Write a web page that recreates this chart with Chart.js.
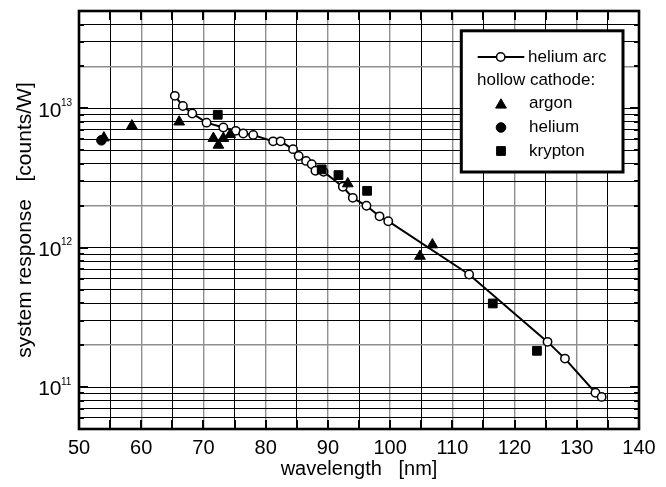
<!DOCTYPE html>
<html>
<head>
<meta charset="utf-8">
<title>System response</title>
<script src="https://cdn.jsdelivr.net/npm/chart.js@4.4.1/dist/chart.umd.min.js"></script>
<style>
  html, body { margin: 0; padding: 0; background: #fff; }
  canvas { display: block; }
</style>
</head>
<body>
<canvas id="chart" width="666" height="487"></canvas>
<script>
// Helium arc calibration points (open circles joined by a line)
const arcWavelength = [65.4, 66.7, 68.2, 70.5, 73.2, 75.2, 76.4, 78.0, 81.2, 82.4, 84.4, 85.3, 86.5, 87.4,
                       88.0, 89.3, 92.4, 94.0, 96.2, 98.3, 99.7, 112.7, 125.3, 128.1, 133.0, 134.0];
const arcResponse = [1.23e13, 1.04e13, 9.2e12, 7.9e12, 7.3e12, 6.9e12, 6.6e12, 6.45e12, 5.8e12, 5.8e12,
                     5.1e12, 4.55e12, 4.2e12, 3.97e12, 3.57e12, 3.51e12, 2.74e12, 2.28e12, 2.0e12, 1.68e12,
                     1.55e12, 6.43e11, 2.11e11, 1.6e11, 9.1e10, 8.5e10];

// Hollow cathode lamp lines
const argonWavelength = [54.0, 58.5, 66.1, 71.6, 72.4, 73.2, 74.3, 93.2, 104.8, 106.8];
const argonResponse = [6.15e12, 7.5e12, 8.0e12, 6.1e12, 5.45e12, 6.1e12, 6.5e12, 2.88e12, 8.7e11, 1.05e12];

const heliumWavelength = [53.6];
const heliumResponse = [5.9e12];

const kryptonWavelength = [72.3, 89.0, 91.7, 96.3, 116.5, 123.6];
const kryptonResponse = [9.0e12, 3.65e12, 3.32e12, 2.56e12, 3.98e11, 1.82e11];

// Axis ranges and labelled ticks
const xMin = 50, xMax = 140, xGridStep = 5;
const xTickLabels = [50, 60, 70, 80, 90, 100, 110, 120, 130, 140];
const yMin = 5e10, yMax = 5e13;
const yDecadeExponents = [11, 12, 13];

// 1..9 x 10^n grid values across the log range
const yGridValues = [];
for (let e = 10; e <= 13; e++) {
  for (let m = 1; m <= 9; m++) {
    const v = m * Math.pow(10, e);
    if (v >= yMin * 0.999 && v <= yMax * 1.001) yGridValues.push(v);
  }
}

function mantissa(v) {
  return Math.round(v / Math.pow(10, Math.floor(Math.log10(v) + 1e-9)));
}

const pairs = (xs, ys) => xs.map((x, i) => ({ x, y: ys[i] }));

const FONT = '"Liberation Sans", Arial, Helvetica, sans-serif';
Chart.defaults.font.family = FONT;
Chart.defaults.color = '#000';

// Draw a point marker the same way Chart.js does, with a fallback
function marker(ctx, style, r, x, y, fill, bw) {
  ctx.save();
  ctx.fillStyle = fill;
  ctx.strokeStyle = '#000';
  ctx.lineWidth = bw;
  if (Chart.helpers && Chart.helpers.drawPoint) {
    Chart.helpers.drawPoint(ctx, { pointStyle: style, radius: r, rotation: 0, borderWidth: bw }, x, y);
  } else {
    ctx.beginPath();
    if (style === 'triangle') {
      ctx.moveTo(x, y - r);
      ctx.lineTo(x + r * Math.sin(2 * Math.PI / 3), y - r * Math.cos(2 * Math.PI / 3));
      ctx.lineTo(x + r * Math.sin(4 * Math.PI / 3), y - r * Math.cos(4 * Math.PI / 3));
      ctx.closePath();
    } else if (style === 'rect') {
      const s = r * Math.SQRT1_2;
      ctx.rect(x - s, y - s, 2 * s, 2 * s);
    } else {
      ctx.arc(x, y, r, 0, Math.PI * 2);
    }
    ctx.fill();
    if (bw > 0) ctx.stroke();
  }
  ctx.restore();
}

const frameAndLegend = {
  id: 'frameAndLegend',
  afterDatasetsDraw(chart) {
    const { ctx, chartArea: a, scales: { x, y } } = chart;
    ctx.save();

    // inward tick marks on all four sides
    ctx.strokeStyle = '#000';
    ctx.lineWidth = 2;
    ctx.beginPath();
    x.ticks.forEach(t => {
      const px = Math.round(x.getPixelForValue(t.value));
      ctx.moveTo(px, a.bottom); ctx.lineTo(px, a.bottom - 9);
      ctx.moveTo(px, a.top); ctx.lineTo(px, a.top + 9);
    });
    y.ticks.forEach(t => {
      const py = Math.round(y.getPixelForValue(t.value));
      const len = mantissa(t.value) === 1 ? 9 : 5;
      ctx.moveTo(a.left, py); ctx.lineTo(a.left + len, py);
      ctx.moveTo(a.right, py); ctx.lineTo(a.right - len, py);
    });
    ctx.stroke();

    // plot frame
    ctx.lineWidth = 2.6;
    ctx.strokeRect(a.left, a.top, a.right - a.left, a.bottom - a.top);

    // decade labels with superscript exponents
    ctx.fillStyle = '#000';
    ctx.textBaseline = 'alphabetic';
    yDecadeExponents.forEach(e => {
      const py = y.getPixelForValue(Math.pow(10, e));
      ctx.font = '21px ' + FONT;
      ctx.textAlign = 'right';
      ctx.fillText('10', 61.5, py + 8.4);
      ctx.font = '10px ' + FONT;
      ctx.textAlign = 'left';
      ctx.fillText(String(e), 61, py - 2.3);
    });

    // legend box
    const ds = chart.data.datasets;
    ctx.fillStyle = '#fff';
    ctx.fillRect(461.3, 30.8, 161.7, 141.2);
    ctx.lineWidth = 3;
    ctx.strokeStyle = '#000';
    ctx.strokeRect(461.3, 30.8, 161.7, 141.2);

    ctx.font = '17px ' + FONT;
    ctx.fillStyle = '#000';
    ctx.textAlign = 'left';
    ctx.textBaseline = 'middle';

    // line + open circle sample
    ctx.lineWidth = 2;
    ctx.beginPath();
    ctx.moveTo(477.7, 57); ctx.lineTo(524.3, 57);
    ctx.stroke();
    marker(ctx, ds[0].pointStyle, ds[0].pointRadius, 500.7, 57, '#fff', ds[0].pointBorderWidth);
    ctx.fillStyle = '#000';
    ctx.fillText(ds[0].label, 528, 57);
    ctx.fillText('hollow cathode:', 477, 80);

    const rows = [[ds[1], 103.5], [ds[2], 127.5], [ds[3], 151]];
    rows.forEach(([d, ty]) => {
      marker(ctx, d.pointStyle, d.pointRadius, 501, ty + (d.pointStyle === 'triangle' ? 1.5 : 0), '#000', d.pointBorderWidth);
      ctx.fillStyle = '#000';
      ctx.fillText(d.label, 529, ty);
    });

    ctx.restore();
  }
};

new Chart(document.getElementById('chart'), {
  type: 'scatter',
  data: {
    datasets: [
      {
        label: 'helium arc',
        data: pairs(arcWavelength, arcResponse),
        showLine: true,
        borderColor: '#000',
        borderWidth: 2,
        pointStyle: 'circle',
        pointRadius: 4.2,
        pointBorderWidth: 1.5,
        pointBackgroundColor: '#fff',
        pointBorderColor: '#000',
        order: 4
      },
      {
        label: 'argon',
        data: pairs(argonWavelength, argonResponse),
        pointStyle: 'triangle',
        pointRadius: 6.2,
        pointBorderWidth: 1,
        pointBackgroundColor: '#000',
        pointBorderColor: '#000',
        order: 1
      },
      {
        label: 'helium',
        data: pairs(heliumWavelength, heliumResponse),
        pointStyle: 'circle',
        pointRadius: 4.8,
        pointBorderWidth: 1,
        pointBackgroundColor: '#000',
        pointBorderColor: '#000',
        order: 2
      },
      {
        label: 'krypton',
        data: pairs(kryptonWavelength, kryptonResponse),
        pointStyle: 'rect',
        pointRadius: 6.2,
        pointBorderWidth: 1,
        pointBackgroundColor: '#000',
        pointBorderColor: '#000',
        order: 3
      }
    ]
  },
  options: {
    responsive: false,
    animation: false,
    events: [],
    layout: { padding: { left: 0, right: 27, top: 11, bottom: 0 } },
    plugins: { legend: { display: false }, tooltip: { enabled: false } },
    scales: {
      x: {
        type: 'linear',
        min: xMin,
        max: xMax,
        afterFit: s => { s.height = 58; },
        border: { display: false },
        grid: {
          drawTicks: false,
          color: c => (c.tick && c.tick.value % 10 === 0) ? '#8f8f8f' : '#000',
          lineWidth: c => (c.tick && c.tick.value % 10 === 0) ? 1.4 : 1
        },
        ticks: {
          stepSize: xGridStep,
          autoSkip: false,
          maxRotation: 0,
          padding: 7,
          font: { size: 20 },
          color: '#000',
          callback: v => xTickLabels.includes(v) ? String(v) : ''
        },
        title: {
          display: true,
          text: 'wavelength   [nm]',
          font: { size: 20 },
          color: '#000',
          padding: { top: 0, bottom: 6 }
        }
      },
      y: {
        type: 'logarithmic',
        min: yMin,
        max: yMax,
        afterBuildTicks: s => { s.ticks = yGridValues.map(v => ({ value: v, major: mantissa(v) === 1 })); },
        afterFit: s => { s.width = 79; },
        border: { display: false },
        grid: {
          drawTicks: false,
          color: c => (c.tick && mantissa(c.tick.value) === 2) ? '#8f8f8f' : '#000',
          lineWidth: c => (c.tick && mantissa(c.tick.value) === 2) ? 1.4 : 1
        },
        ticks: { display: false },
        title: {
          display: true,
          text: 'system response   [counts/W]',
          font: { size: 21 },
          color: '#000',
          padding: { top: 13, bottom: 0 }
        }
      }
    }
  },
  plugins: [frameAndLegend]
});
</script>
</body>
</html>
